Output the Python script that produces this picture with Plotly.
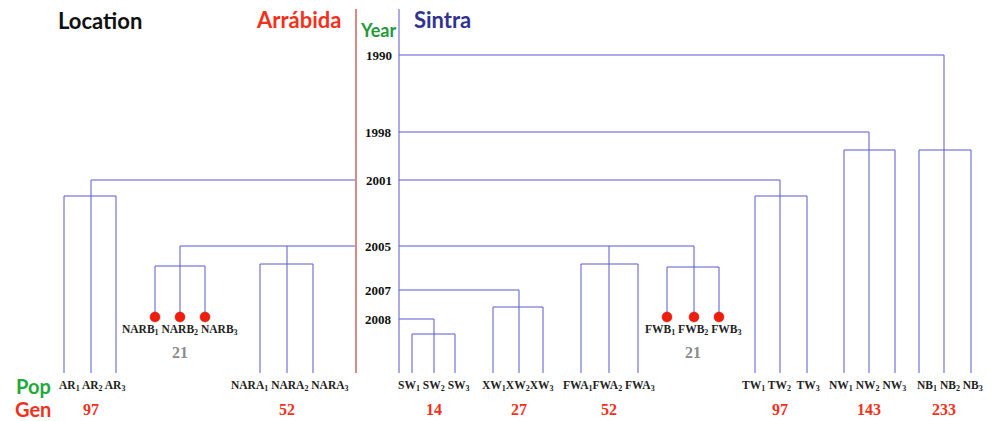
import plotly.graph_objects as go

# ---------------- data ----------------
populations = ["AR", "NARB", "NARA", "SW", "XW", "FWA", "FWB", "TW", "NW", "NB"]
locations = ["Arrábida", "Arrábida", "Arrábida", "Sintra", "Sintra",
             "Sintra", "Sintra", "Sintra", "Sintra", "Sintra"]
generations = [97, 21, 52, 14, 27, 52, 21, 97, 143, 233]
founded = [2001, 2005, 2005, 2008, 2007, 2005, 2005, 2001, 1998, 1990]
lab_derived = [False, True, False, False, False, False, True, False, False, False]
year_ticks = [1990, 1998, 2001, 2005, 2007, 2008]
replicates = [1, 2, 3]
label_seps = [[" ", " "], [" ", " "], [" ", " "], [" ", " "], ["", ""],
              ["", " "], [" ", " "], [" ", "  "], [" ", " "], [" ", " "]]

# ---------------- layout (positions on the drawing scale) ----------------
leaf_x = [[64, 91, 116], [155, 180, 205], [260, 287, 313], [412, 434, 455],
          [493, 519, 543], [581, 609, 638], [667, 694, 719], [755, 780, 807],
          [844, 869, 895], [919, 944, 971]]
label_dx = [2, 0, 3, 0, 0, 0, 0, 0, -2, 5]
box_y = [196, 266, 264, 334, 307, 264, 267, 196, 150, 150]
year_y = [55, 132, 180, 246, 290, 319]
axis_x = {"Arrábida": 356, "Sintra": 399}
axis_top, leaf_bottom, dot_y = 9, 373, 317
label_y, gen_y, lab_label_y, lab_gen_y = 386, 409, 330, 352

BLUE = "rgba(100,100,210,0.72)"
RED_AXIS = "#d98a8a"
SERIF = "Liberation Serif, Times New Roman, serif"
SANS = "Lato, Open Sans, sans-serif"

ymap = dict(zip(year_ticks, year_y))

xs, ys = [], []
def seg(x0, y0, x1, y1):
    xs.extend([x0, x1, None])
    ys.extend([y0, y1, None])

# Sintra axis (blue)
seg(axis_x["Sintra"], axis_top, axis_x["Sintra"], leaf_bottom)

# founding-year connectors
for loc in axis_x:
    for yr in year_ticks:
        idx = [i for i in range(len(populations)) if locations[i] == loc and founded[i] == yr]
        if not idx:
            continue
        centers = [leaf_x[i][1] for i in idx]
        far = min(centers) if loc == "Arrábida" else max(centers)
        seg(axis_x[loc], ymap[yr], far, ymap[yr])

# clusters
dots_x, dots_y = [], []
for i, p in enumerate(populations):
    l, c, r = leaf_x[i]
    bottom = dot_y if lab_derived[i] else leaf_bottom
    seg(c, ymap[founded[i]], c, bottom)
    seg(l, box_y[i], r, box_y[i])
    seg(l, box_y[i], l, bottom)
    seg(r, box_y[i], r, bottom)
    if lab_derived[i]:
        for x in leaf_x[i]:
            dots_x.append(x)
            dots_y.append(dot_y)

fig = go.Figure()
fig.add_trace(go.Scatter(x=xs, y=ys, mode="lines", line=dict(color=BLUE, width=1.5),
                         hoverinfo="skip", showlegend=False))
fig.add_trace(go.Scatter(x=[axis_x["Arrábida"]] * 2, y=[axis_top, leaf_bottom], mode="lines",
                         line=dict(color=RED_AXIS, width=2), hoverinfo="skip", showlegend=False))
fig.add_trace(go.Scatter(x=dots_x, y=dots_y, mode="markers",
                         marker=dict(color="#f01c0c", size=10, line=dict(color="#d01808", width=0.5)),
                         hoverinfo="skip", showlegend=False))

ann = []
def text(x, y, t, size, color, font=SERIF, xanchor="center"):
    ann.append(dict(x=x, y=y, text=t, showarrow=False, xanchor=xanchor, yanchor="middle",
                    font=dict(family=font, size=size, color=color), xref="x", yref="y"))

# year tick labels
for yr in year_ticks:
    text(394, ymap[yr], f"<b>{yr}</b>", 13, "#111111", xanchor="right")

# population labels and generation counts
for i, p in enumerate(populations):
    parts = [f"{p}<sub>{k}</sub>" for k in replicates]
    s = parts[0] + label_seps[i][0] + parts[1] + label_seps[i][1] + parts[2]
    cx = sum(leaf_x[i]) / 3 + label_dx[i]
    if lab_derived[i]:
        text(cx, lab_label_y, f"<b>{s}</b>", 11.5, "#222222")
        text(cx, lab_gen_y, f"<b>{generations[i]}</b>", 16, "#8c8c8c")
    else:
        text(cx, label_y, f"<b>{s}</b>", 11.5, "#222222")
        text(leaf_x[i][1], gen_y, f"<b>{generations[i]}</b>", 16, "#f2301c")

# headers
text(100, 20, "<b>Location</b>", 22, "#111111", font=SANS)
text(298, 19, "<b>Arrábida</b>", 22, "#f2301c", font=SANS)
text(378, 30, "<b>Year</b>", 18, "#1f9a3a", font=SANS)
text(442, 19, "<b>Sintra</b>", 22, "#33338f", font=SANS)
text(33, 386, "<b>Pop</b>", 20, "#22a83c", font=SANS)
text(33, 409, "<b>Gen</b>", 20, "#f2301c", font=SANS)

fig.update_layout(
    width=994, height=421, margin=dict(l=0, r=0, t=0, b=0),
    paper_bgcolor="white", plot_bgcolor="white",
    xaxis=dict(range=[0, 994], visible=False, fixedrange=True),
    yaxis=dict(range=[421, 0], visible=False, fixedrange=True),
    annotations=ann,
)
fig.write_html("out.html", config={"displayModeBar": False},
               post_script="document.body.style.margin='0';document.body.style.overflow='hidden';")
